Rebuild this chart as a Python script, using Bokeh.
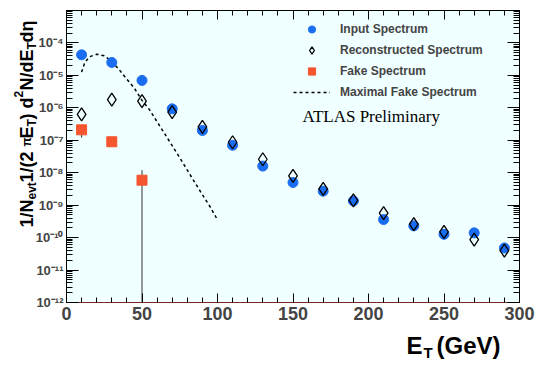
import math
from bokeh.plotting import figure
from bokeh.models import (FixedTicker, LogAxis, LinearAxis, Range1d, Label,
                          Legend, LegendItem, ColumnDataSource,
                          CustomJSTickFormatter, GridBox)
from bokeh.core.properties import value, field
from bokeh.embed import file_html
from bokeh.resources import INLINE

# ---------------- data ----------------
et = [10, 30, 50, 70, 90, 110, 130, 150, 170, 190, 210, 230, 250, 270, 290]
input_spec = [4.3e-5, 2.5e-5, 7.0e-6, 9.3e-7, 2.0e-7, 7.0e-8, 1.6e-8, 5.0e-9,
              2.7e-9, 1.35e-9, 3.6e-10, 2.3e-10, 1.26e-10, 1.4e-10, 4.8e-11]
reco_spec = [6.3e-7, 1.8e-6, 1.6e-6, 7.4e-7, 2.6e-7, 8.7e-8, 2.6e-8, 8.0e-9,
             3.2e-9, 1.4e-9, 5.7e-10, 2.6e-10, 1.5e-10, 8.7e-11, 4.0e-11]
fake_et = [10, 30, 50]
fake_spec = [2.1e-7, 9.0e-8, 5.9e-9]
fake_lo = [1.2e-7, 6.3e-8, 1e-14]
fake_hi = [3.0e-7, 1.1e-7, 1.2e-8]
maxfake_et = [10, 12, 15, 20, 25, 30, 35, 40, 45, 50, 55, 60, 65, 70, 75, 80,
              85, 90, 95, 100]
maxfake = [1.26e-5, 2.4e-5, 3.7e-5, 4.5e-5, 4.0e-5, 2.7e-5, 1.48e-5, 7.6e-6,
           4.0e-6, 1.7e-6, 8.7e-7, 3.7e-7, 1.6e-7, 6.8e-8, 2.9e-8, 1.2e-8,
           5.0e-9, 2.1e-9, 9.1e-10, 3.5e-10]
x_ticks = [0, 50, 100, 150, 200, 250, 300]
y_exponents = [-12, -11, -10, -9, -8, -7, -6, -5, -4, -3]
legend_labels = ["Input Spectrum", "Reconstructed Spectrum", "Fake Spectrum",
                 "Maximal Fake Spectrum"]

BLUE = "#1a6cf0"
ORANGE = "#f5552f"
FONT = "Liberation Sans"
W, H = 538, 365

SUP = {"-": "\u207b", "0": "\u2070", "1": "\u00b9", "2": "\u00b2", "3": "\u00b3",
       "4": "\u2074", "5": "\u2075", "6": "\u2076", "7": "\u2077", "8": "\u2078", "9": "\u2079"}

y_major = [10.0 ** e for e in y_exponents]
y_minor = [k * 10.0 ** e for e in y_exponents[:-1] for k in range(2, 10)]
x_minor = list(range(0, 301, 10))

p = figure(width=W, height=H, y_axis_type="log",
           x_range=Range1d(0, 300), y_range=Range1d(1e-12, 1e-3),
           output_backend="svg", toolbar_location=None,
           min_border_left=66, min_border_right=19, min_border_top=10,
           min_border_bottom=63)
p.background_fill_color = "#f0ffff"
p.border_fill_color = "white"
p.outline_line_color = "black"
p.outline_line_width = 1
p.grid.visible = False

xt = FixedTicker(ticks=x_ticks, minor_ticks=x_minor)
yt = FixedTicker(ticks=y_major, minor_ticks=y_minor)
blank = CustomJSTickFormatter(code="return ''")

xa = p.xaxis[0]
xa.ticker = xt
xa.major_tick_in = 9
xa.major_tick_out = 0
xa.minor_tick_in = 5
xa.minor_tick_out = 0
xa.axis_line_color = "#7a2a20"
xa.major_label_text_font = FONT
xa.major_label_text_font_style = "bold"
xa.major_label_text_font_size = "18px"
xa.major_label_standoff = 4

ya = p.yaxis[0]
ya.ticker = yt
ya.major_tick_in = 12
ya.major_tick_out = 0
ya.minor_tick_in = 6
ya.minor_tick_out = 0
ya.major_label_text_font = FONT
ya.major_label_text_font_style = "bold"
ya.major_label_text_font_size = "13px"
ya.major_label_standoff = 3
overrides = {}
for e, v in zip(y_exponents, y_major):
    overrides[v] = "" if e == -3 else "10" + "".join(SUP[c] for c in str(e))
ya.major_label_overrides = overrides

top = LinearAxis(ticker=xt, formatter=blank, major_tick_in=9, major_tick_out=0,
                 minor_tick_in=5, minor_tick_out=0,
                 major_label_text_font_size="1px", major_label_standoff=0,
                 axis_line_color=None)
p.add_layout(top, "above")
right = LogAxis(ticker=yt, formatter=blank, major_tick_in=12, major_tick_out=0,
                minor_tick_in=6, minor_tick_out=0,
                major_label_text_font_size="1px", major_label_standoff=0,
                axis_line_color=None)
p.add_layout(right, "right")

# ---------------- glyphs ----------------
r_max = p.line(maxfake_et, maxfake, line_color="black", line_width=1.5,
               line_dash="3 3")
fsrc = ColumnDataSource(dict(x=fake_et, y=fake_spec, lo=fake_lo, hi=fake_hi))
p.segment(x0="x", y0="lo", x1="x", y1="hi", source=fsrc, line_color="#333333",
          line_width=1)
r_fake = p.scatter("x", "y", source=fsrc, marker="square", size=10,
                   fill_color=ORANGE, line_color=ORANGE)
r_in = p.scatter(et, input_spec, marker="circle", size=10, fill_color=BLUE,
                 line_color=BLUE)
r_reco = p.scatter(et, reco_spec, marker="diamond", size=13,
                   fill_color=None, line_color="black", line_width=1.3)

legend = Legend(items=[LegendItem(label=legend_labels[0], renderers=[r_in]),
                       LegendItem(label=legend_labels[1], renderers=[r_reco]),
                       LegendItem(label=legend_labels[2], renderers=[r_fake]),
                       LegendItem(label=legend_labels[3], renderers=[r_max])],
                location=(227, 201), glyph_width=37, glyph_height=18,
                label_height=18, label_standoff=10, spacing=3, padding=0,
                margin=0, border_line_alpha=0, background_fill_alpha=0,
                label_text_font=FONT, label_text_font_style="bold",
                label_text_font_size="12px")
p.add_layout(legend)

p.add_layout(Label(x=236, y=177, x_units="screen", y_units="screen",
                   text="ATLAS Preliminary", text_font="Liberation Serif",
                   text_font_size="17px", text_color="black"))

# ---------------- axis titles: transparent overlay in the same grid cell ----------------
ov = figure(width=W, height=H, x_range=Range1d(0, W), y_range=Range1d(0, H),
            output_backend="svg", toolbar_location=None, min_border=0,
            x_axis_location=None, y_axis_location=None)
ov.grid.visible = False
ov.outline_line_color = None
ov.background_fill_color = None
ov.border_fill_color = None
for fig in (p, ov):
    if "frame_align" in fig.properties():
        fig.frame_align = False

# y title pieces: (text, font px, baseline x, start y) in page pixels
ylab = [("1/N", 18, 26, 227), ("evt", 12, 31, 199), (" 1/(2", 18, 26, 182),
        ("\u03c0", 12, 26, 146), ("E", 18, 26, 138), ("T", 12, 31, 126),
        (") d", 18, 26, 119), ("2", 12, 18, 97), ("N/dE", 18, 26, 90),
        ("T", 12, 31, 49), ("d\u03b7", 18, 26, 42)]
ysrc = ColumnDataSource(dict(x=[a[2] for a in ylab], y=[H - a[3] for a in ylab],
                             text=[a[0] for a in ylab],
                             size=[f"{a[1]}px" for a in ylab]))
ov.text(x="x", y="y", text="text", source=ysrc, angle=math.pi / 2,
        text_font=value(FONT), text_font_style="bold",
        text_font_size=field("size"), text_baseline="alphabetic",
        text_align="left", text_color="black")

xlab = [("E", 24, 406, 345), ("T", 15, 423, 352), ("(GeV)", 24, 436, 345)]
xsrc = ColumnDataSource(dict(x=[a[2] for a in xlab], y=[H - a[3] for a in xlab],
                             text=[a[0] for a in xlab],
                             size=[f"{a[1]}px" for a in xlab]))
ov.text(x="x", y="y", text="text", source=xsrc,
        text_font=value(FONT), text_font_style="bold",
        text_font_size=field("size"), text_baseline="alphabetic",
        text_align="left", text_color="black")

layout = GridBox(children=[(p, 0, 0), (ov, 0, 0)], spacing=0)

open("out.html", "w").write(file_html(layout, INLINE))
